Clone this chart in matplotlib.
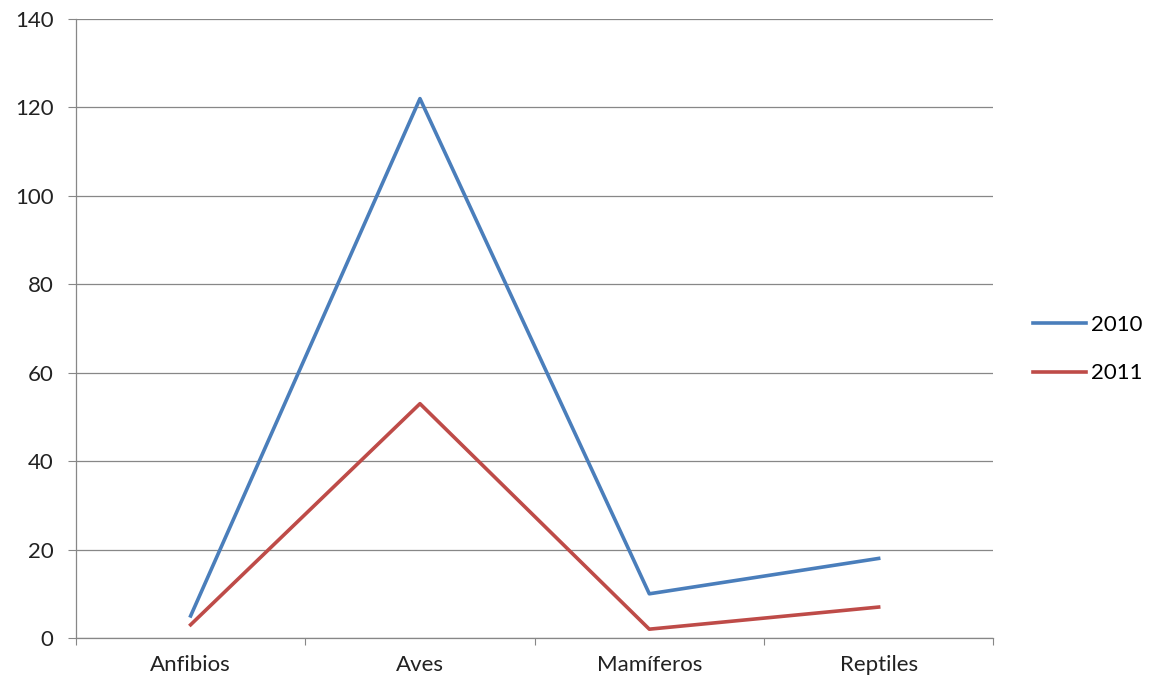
import matplotlib.pyplot as plt
import numpy as np

categories = ["Anfibios", "Aves", "Mamíferos", "Reptiles"]
years = ["2010", "2011"]
values_2010 = [5, 122, 10, 18]
values_2011 = [3, 53, 2, 7]
y_ticks = [0, 20, 40, 60, 80, 100, 120, 140]

plt.rcParams["font.family"] = ["Lato", "DejaVu Sans"]

fig = plt.figure(figsize=(11.51, 6.87), dpi=100)
ax = fig.add_axes([0.066, 0.0713, 0.797, 0.901])

x = np.arange(len(categories))
ax.plot(x, values_2010, color="#4A7EBB", linewidth=2.6, label=years[0])
ax.plot(x, values_2011, color="#BE4B48", linewidth=2.6, label=years[1])

ax.set_xlim(-0.5, len(categories) - 0.5)
ax.set_ylim(0, 140)
ax.set_yticks(y_ticks)
ax.yaxis.grid(True, color="#878787", linewidth=0.9)
ax.set_axisbelow(True)

# category labels centered, tick marks on boundaries
ax.set_xticks(np.arange(-0.5, len(categories)), minor=False)
ax.set_xticklabels([])
ax.set_xticks(x, minor=True)
ax.set_xticklabels(categories, minor=True)
ax.tick_params(axis="x", which="minor", length=0, pad=12, labelsize=16, colors="#222222")
ax.tick_params(axis="x", which="major", length=5, color="#878787")
ax.tick_params(axis="y", length=6, color="#878787", labelsize=16, pad=10, labelcolor="#222222")

for side in ["top", "right"]:
    ax.spines[side].set_visible(False)
for side in ["left", "bottom"]:
    ax.spines[side].set_color("#878787")
    ax.spines[side].set_linewidth(0.9)

ax.legend(loc="center left", bbox_to_anchor=(1033 / 1151, 0.492),
          bbox_transform=fig.transFigure, frameon=False,
          fontsize=16, handlelength=2.4, handletextpad=0.2, labelspacing=1.3,
          borderpad=0, borderaxespad=0)

plt.savefig("out.png", dpi=100)
plt.close()
